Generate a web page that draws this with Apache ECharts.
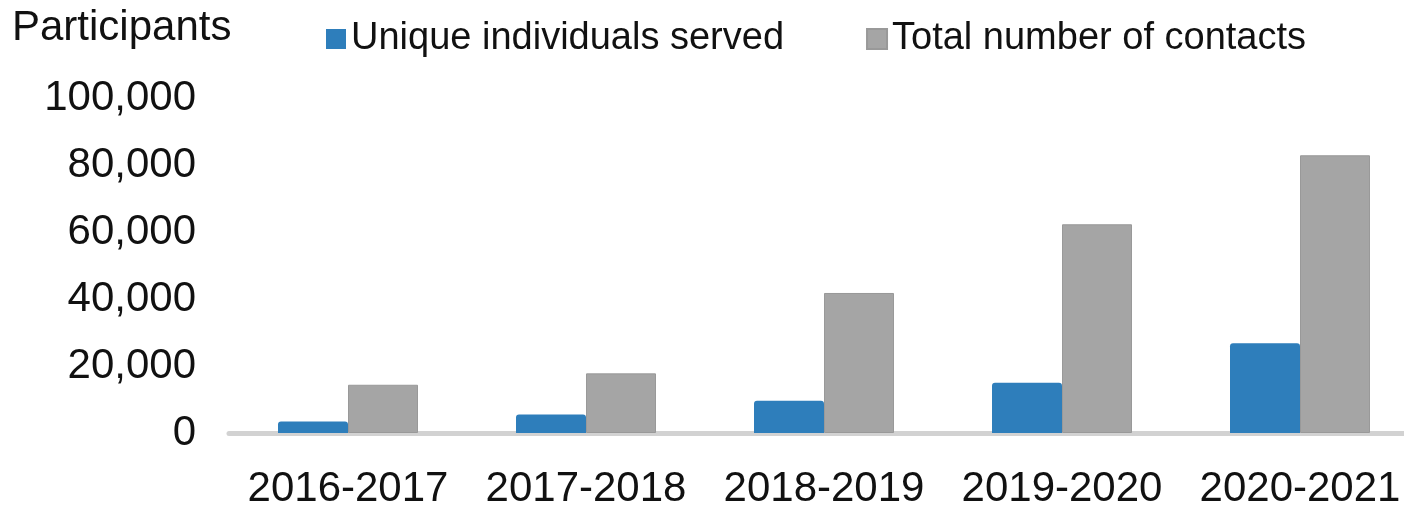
<!DOCTYPE html>
<html>
<head>
<meta charset="utf-8">
<script src="https://cdn.jsdelivr.net/npm/echarts@6/dist/echarts.min.js"></script>
<style>
  html, body { margin: 0; padding: 0; background: #fff; }
  #chart { width: 1404px; height: 506px; }
</style>
</head>
<body>
<div id="chart"></div>
<script>
// data
const years = ['2016-2017', '2017-2018', '2018-2019', '2019-2020', '2020-2021']
const uniqueServed = [3400, 5500, 9600, 15000, 26800]
const totalContacts = [14400, 17800, 41800, 62300, 82900]
const seriesNames = ['Unique individuals served', 'Total number of contacts']

const font = '"Liberation Sans", Arial, sans-serif'

let chart = echarts.init(document.getElementById('chart'))
let option = {
  animation: false,
  textStyle: { fontFamily: font },
  title: {
    text: 'Participants',
    left: 12,
    top: 7,
    padding: 0,
    textStyle: { fontSize: 42, fontWeight: 'normal', color: '#111', fontFamily: font }
  },
  legend: {
    left: 326,
    top: 20,
    padding: 0,
    itemWidth: 20,
    itemHeight: 20,
    itemGap: 82,
    icon: 'rect',
    textStyle: { fontSize: 38, color: '#111', fontFamily: font },
    data: seriesNames
  },
  grid: {
    left: 229,
    top: 98,
    width: 1190,
    height: 335,
    outerBoundsMode: 'none'
  },
  xAxis: {
    type: 'category',
    data: years,
    axisTick: { show: false },
    axisLine: { lineStyle: { color: '#d2d2d2', width: 5 } },
    axisLabel: { fontSize: 42, color: '#111', margin: 35, interval: 0, hideOverlap: false, fontFamily: font }
  },
  yAxis: {
    type: 'value',
    min: 0,
    max: 100000,
    interval: 20000,
    splitLine: { show: false },
    axisLine: { show: false },
    axisTick: { show: false },
    axisLabel: {
      fontSize: 42,
      color: '#111',
      margin: 33,
      fontFamily: font,
      formatter: v => v.toLocaleString('en-US')
    }
  },
  series: [
    {
      name: seriesNames[0],
      type: 'bar',
      data: uniqueServed,
      barWidth: 70,
      barGap: '0%',
      itemStyle: { color: '#2e7ebb', borderRadius: [3, 3, 0, 0] }
    },
    {
      name: seriesNames[1],
      type: 'bar',
      data: totalContacts,
      barWidth: 70,
      itemStyle: { color: '#a5a5a5', borderColor: '#999', borderWidth: 1 }
    }
  ]
}
chart.setOption(option)
</script>
</body>
</html>
